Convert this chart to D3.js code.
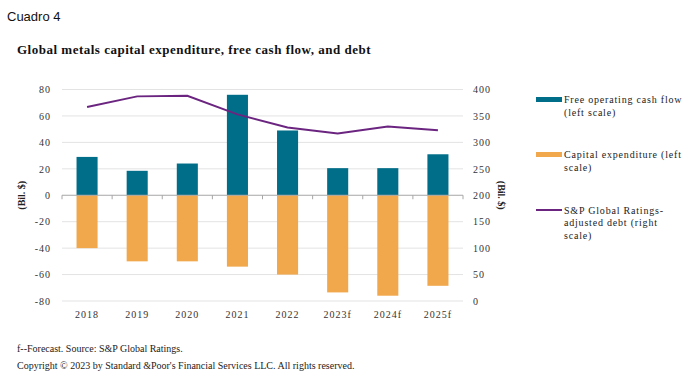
<!DOCTYPE html>
<html>
<head>
<meta charset="utf-8">
<script src="https://cdn.jsdelivr.net/npm/d3@7"></script>
<style>
  body { margin: 0; background: #fff; }
  text { font-family: "Liberation Serif", "Times New Roman", serif; fill: #222; }
  .tick text { font-size: 10px; letter-spacing: 1px; }
</style>
</head>
<body>
<svg id="chart"></svg>
<script>
let years = ["2018", "2019", "2020", "2021", "2022", "2023f", "2024f", "2025f"];
let cashFlow = [29, 18.5, 24, 76, 49, 20.5, 20.5, 31];
let capex = [-40, -50, -50, -54, -60, -73.5, -76, -68.5];
let debt = [367, 387, 388, 353, 328, 317, 330, 323];
let leftTicks = [-80, -60, -40, -20, 0, 20, 40, 60, 80];
let rightTicks = [0, 50, 100, 150, 200, 250, 300, 350, 400];
let legendItems = [
    ["Free operating cash flow", "(left scale)"],
    ["Capital expenditure (left", "scale)"],
    ["S&P Global Ratings-", "adjusted debt (right", "scale)"]
];

let svgW = 700, svgH = 377;
let margin = { top: 89.5, bottom: 301, left: 62, right: 463 };

let teal = "#006E88", orange = "#F1A74B", purple = "#6B2580";

let svg = d3.select("#chart")
    .attr("width", svgW)
    .attr("height", svgH);

let xScale = d3.scaleBand()
    .domain(years)
    .range([margin.left, margin.right])
    .paddingInner(0.58)
    .paddingOuter(0.29);

let yLeft = d3.scaleLinear()
    .domain([-80, 80])
    .range([margin.bottom, margin.top]);

let yRight = d3.scaleLinear()
    .domain([0, 400])
    .range([margin.bottom, margin.top]);

// gridlines
svg.append("g")
    .selectAll("line")
    .data(leftTicks.filter(d => d !== 0))
    .enter()
    .append("line")
    .attr("x1", margin.left)
    .attr("x2", margin.right)
    .attr("y1", d => yLeft(d))
    .attr("y2", d => yLeft(d))
    .style("stroke", "#e3e3e3")
    .style("stroke-width", 1);

// left axis labels (plain hyphen for negatives, like the source)
let leftAxis = d3.axisLeft(yLeft)
    .tickValues(leftTicks)
    .tickSize(0)
    .tickPadding(11)
    .tickFormat(d => String(d));
svg.append("g")
    .attr("transform", "translate(" + margin.left + ",0)")
    .call(leftAxis)
    .call(g => g.select(".domain").remove())
    .selectAll("text").style("fill", "#333");

let rightAxis = d3.axisRight(yRight)
    .tickValues(rightTicks)
    .tickSize(0)
    .tickPadding(10)
    .tickFormat(d => String(d));
svg.append("g")
    .attr("transform", "translate(" + margin.right + ",0)")
    .call(rightAxis)
    .call(g => g.select(".domain").remove())
    .selectAll("text").style("fill", "#333");

// bars
svg.append("g")
    .selectAll("rect")
    .data(years)
    .enter()
    .append("rect")
    .attr("x", d => xScale(d))
    .attr("width", xScale.bandwidth())
    .attr("y", (d, i) => yLeft(cashFlow[i]))
    .attr("height", (d, i) => yLeft(0) - yLeft(cashFlow[i]))
    .style("fill", teal);

svg.append("g")
    .selectAll("rect")
    .data(years)
    .enter()
    .append("rect")
    .attr("x", d => xScale(d))
    .attr("width", xScale.bandwidth())
    .attr("y", yLeft(0))
    .attr("height", (d, i) => yLeft(capex[i]) - yLeft(0))
    .style("fill", orange);

// zero axis with category ticks
let xAxis = d3.axisBottom(xScale)
    .tickSize(0)
    .tickPadding(0)
    .tickFormat("");
svg.append("g")
    .attr("transform", "translate(0," + yLeft(0) + ")")
    .call(xAxis)
    .call(g => g.select(".domain").attr("d", "M" + margin.left + ",0H" + margin.right).style("stroke", "#a6a6a6"));

let step = xScale.step();
svg.append("g")
    .selectAll("line")
    .data(d3.range(years.length + 1))
    .enter()
    .append("line")
    .attr("x1", d => margin.left + d * step)
    .attr("x2", d => margin.left + d * step)
    .attr("y1", yLeft(0))
    .attr("y2", yLeft(0) + 4)
    .style("stroke", "#a6a6a6");

// year labels
svg.append("g")
    .selectAll("text")
    .data(years)
    .enter()
    .append("text")
    .attr("x", d => xScale(d) + xScale.bandwidth() / 2)
    .attr("y", 318)
    .attr("text-anchor", "middle")
    .style("font-size", "10px")
    .style("letter-spacing", "1px")
    .style("fill", "#333")
    .text(d => d);

// debt line
let line = d3.line()
    .x((d, i) => xScale(years[i]) + xScale.bandwidth() / 2)
    .y(d => yRight(d));
svg.append("path")
    .datum(debt)
    .attr("d", line)
    .style("fill", "none")
    .style("stroke", purple)
    .style("stroke-width", 2);

// axis titles
svg.append("text")
    .attr("transform", "translate(25," + yLeft(0) + ") rotate(-90)")
    .attr("text-anchor", "middle")
    .style("font-size", "10px")
    .style("font-weight", "bold")
    .text("(Bil. $)");

svg.append("text")
    .attr("transform", "translate(498," + yLeft(0) + ") rotate(90)")
    .attr("text-anchor", "middle")
    .style("font-size", "10px")
    .style("font-weight", "bold")
    .text("(Bil. $)");

// legend
let legendY = [99.5, 154.5, 210];
legendItems.forEach(function (lines, i) {
    let g = svg.append("g").attr("transform", "translate(536," + legendY[i] + ")");
    if (i < 2) {
        g.append("rect")
            .attr("x", 0).attr("y", -2.5)
            .attr("width", 26).attr("height", 5)
            .style("fill", i === 0 ? teal : orange);
    } else {
        g.append("line")
            .attr("x1", 0).attr("x2", 26)
            .style("stroke", purple)
            .style("stroke-width", 2);
    }
    g.selectAll("text")
        .data(lines)
        .enter()
        .append("text")
        .attr("x", 28)
        .attr("y", (d, j) => 3.5 + j * 12.5)
        .style("font-size", "10px")
        .style("letter-spacing", "0.8px")
        .text(d => d);
});

// titles
svg.append("text")
    .attr("x", 7)
    .attr("y", 21)
    .style("font-family", "'Liberation Sans', Arial, sans-serif")
    .style("font-size", "13px")
    .style("fill", "#111")
    .text("Cuadro 4");

svg.append("text")
    .attr("x", 17)
    .attr("y", 54)
    .style("font-size", "13px")
    .style("font-weight", "bold")
    .style("letter-spacing", "0.5px")
    .style("fill", "#111")
    .text("Global metals capital expenditure, free cash flow, and debt");

svg.append("text")
    .attr("x", 17)
    .attr("y", 352)
    .style("font-size", "10px")
    .text("f--Forecast. Source: S&P Global Ratings.");

svg.append("text")
    .attr("x", 17)
    .attr("y", 369)
    .style("font-size", "10px")
    .text("Copyright © 2023 by Standard &Poor's Financial Services LLC. All rights reserved.");
</script>
</body>
</html>
